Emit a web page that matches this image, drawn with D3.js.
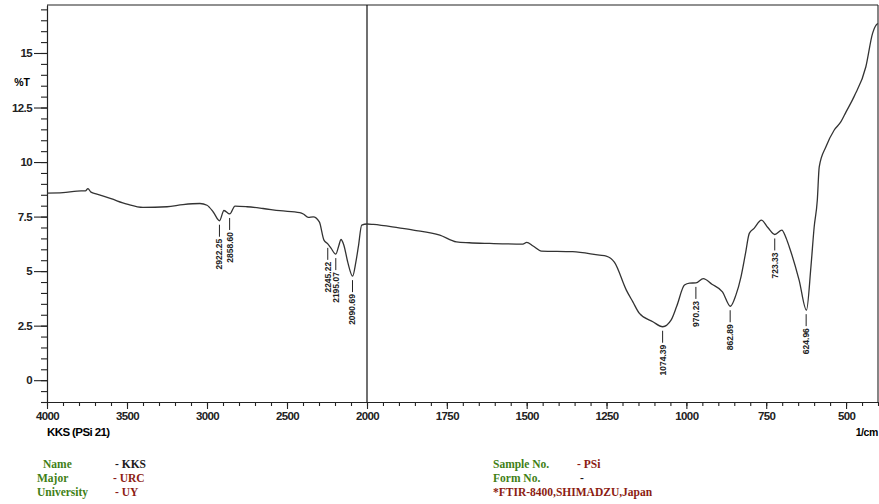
<!DOCTYPE html>
<html>
<head>
<meta charset="utf-8">
<script src="https://cdn.jsdelivr.net/npm/d3@7"></script>
<style>
  body { margin: 0; background: #fff; }
  .axis path, .axis line { stroke: #222; stroke-width: 1.1; }
  .axis text { font-family: "Liberation Sans", Arial, sans-serif; font-weight: bold; font-size: 11.5px; fill: #222; letter-spacing: -0.6px; }
  .peak text { font-family: "Liberation Sans Narrow", "Arial Narrow", "Liberation Sans", sans-serif; font-weight: bold; font-size: 8.5px; fill: #222; }
  .info { font-family: "Liberation Serif", "Times New Roman", serif; font-weight: bold; font-size: 11.5px; }
</style>
</head>
<body>
<div id="chart"></div>
<script>
// spectrum (1/cm, %T)
const wavenumber = [4000, 3900, 3812, 3760, 3744, 3725, 3688, 3600, 3500, 3400, 3250, 3150, 3044, 3000,
    2960, 2922, 2894, 2858, 2825, 2750, 2650, 2544, 2420, 2398, 2367, 2336, 2298, 2269, 2245, 2225,
    2195, 2175, 2163, 2145, 2120, 2090, 2070, 2054, 2033, 2000, 1980, 1900, 1855, 1772, 1720, 1680,
    1616, 1512, 1500, 1480, 1454, 1356, 1272, 1251, 1225, 1188, 1168, 1147, 1105, 1074, 1048, 1030,
    1006, 990, 970, 947, 920, 887, 862, 845, 829, 815, 803, 788, 765, 745, 723, 701, 690, 678,
    647, 624, 610, 600, 590, 584, 563, 537, 516, 500, 475, 438, 417, 406, 400];
const transmittance = [8.58, 8.60, 8.67, 8.68, 8.78, 8.62, 8.53, 8.32, 8.07, 7.92, 7.95, 8.05, 8.10, 8.02,
    7.70, 7.31, 7.78, 7.62, 7.98, 7.95, 7.87, 7.77, 7.68, 7.62, 7.46, 7.49, 7.26, 6.42, 6.25, 6.05,
    5.78, 6.20, 6.45, 6.20, 5.40, 4.77, 5.40, 6.12, 7.11, 7.16, 7.14, 6.98, 6.88, 6.65, 6.34, 6.30,
    6.27, 6.24, 6.32, 6.15, 5.92, 5.89, 5.73, 5.69, 5.40, 4.13, 3.60, 3.06, 2.68, 2.45, 2.75, 3.40,
    4.36, 4.45, 4.46, 4.66, 4.40, 4.05, 3.39, 3.90, 4.74, 5.80, 6.73, 6.96, 7.34, 7.00, 6.68, 6.88, 6.60, 6.12,
    4.59, 3.21, 5.20, 7.00, 8.26, 9.78, 10.70, 11.47, 11.85, 12.30, 13.00, 14.37, 15.90, 16.28, 16.35];

const peakLabels = ["2922.25", "2858.60", "2245.22", "2195.07", "2090.69",
    "1074.39", "970.23", "862.89", "723.33", "624.96"];

const xTicksLeft = [4000, 3500, 3000, 2500, 2000];
const xTicksRight = [1750, 1500, 1250, 1000, 750, 500];
const yTicks = [0, 2.5, 5, 7.5, 10, 12.5, 15];

const WIDTH = 879, HEIGHT = 504;
const margin = {top: 5, right: 1, bottom: 102, left: 47};
const width = WIDTH - margin.left - margin.right;
const height = HEIGHT - margin.top - margin.bottom;

const svg = d3.select("#chart").append("svg")
    .attr("width", WIDTH)
    .attr("height", HEIGHT);

const g = svg.append("g")
    .attr("transform", "translate(" + margin.left + "," + margin.top + ")");

// x scale changes at 2000 1/cm
const x = d3.scaleLinear()
    .domain([4000, 2000, 400])
    .range([0, 320, width]);

const y = d3.scaleLinear()
    .domain([-1.0, 17.2])
    .range([height, 0]);

// frame
g.append("line").attr("x1", 0).attr("x2", width).attr("y1", 0).attr("y2", 0)
    .attr("stroke", "#222").attr("stroke-width", 1.1);
g.append("line").attr("x1", width).attr("x2", width).attr("y1", 0).attr("y2", height)
    .attr("stroke", "#222").attr("stroke-width", 1.1);
g.append("line").attr("x1", x(2000)).attr("x2", x(2000)).attr("y1", 0).attr("y2", height)
    .attr("stroke", "#111").attr("stroke-width", 1.2);

// x axes: minor then major
const xMinor = d3.range(4000, 2000, -100).concat(d3.range(2000, 399, -50));
g.append("g").attr("class", "axis")
    .attr("transform", "translate(0," + height + ")")
    .call(d3.axisBottom(x).tickValues(xMinor).tickSize(4).tickFormat("").tickSizeOuter(0));
g.append("g").attr("class", "axis")
    .attr("transform", "translate(0," + height + ")")
    .call(d3.axisBottom(x).tickValues(xTicksLeft.concat(xTicksRight)).tickSize(7).tickPadding(3)
        .tickSizeOuter(0).tickFormat(d3.format("d")));

// y axes
const yMinor = d3.range(-1, 17.01, 0.5);
g.append("g").attr("class", "axis")
    .call(d3.axisLeft(y).tickValues(yMinor).tickSize(6).tickFormat("").tickSizeOuter(0));
g.append("g").attr("class", "axis")
    .call(d3.axisLeft(y).tickValues(yTicks).tickSize(13).tickPadding(2).tickSizeOuter(0)
        .tickFormat(d => d));

// spectrum
const data = wavenumber.map((w, i) => ({w: w, t: transmittance[i]}));

const line = d3.line()
    .x(d => x(d.w))
    .y(d => y(d.t))
    .curve(d3.curveMonotoneX);

g.append("path")
    .datum(data)
    .attr("fill", "none")
    .attr("stroke", "#333")
    .attr("stroke-width", 1.3)
    .attr("d", line);

// peak markers
const tAt = w => {
    const i = d3.minIndex(wavenumber, v => Math.abs(v - w));
    return transmittance[i];
};

const peaks = g.selectAll(".peak")
    .data(peakLabels)
    .enter()
    .append("g")
    .attr("class", "peak")
    .attr("transform", d => "translate(" + x(+d) + "," + (y(tAt(+d)) + 4) + ")");

peaks.append("line")
    .attr("y1", 0).attr("y2", 12)
    .attr("stroke", "#222").attr("stroke-width", 1);

peaks.append("text")
    .attr("transform", "translate(3,14) rotate(-90)")
    .attr("text-anchor", "end")
    .text(d => d);

// axis titles
svg.append("text").attr("x", 22).attr("y", 86)
    .attr("text-anchor", "middle")
    .style("font-family", "Liberation Sans, Arial, sans-serif")
    .style("font-weight", "bold").style("font-size", "10.5px")
    .text("%T");

svg.append("text").attr("x", 47).attr("y", 436)
    .style("font-family", "Liberation Sans, Arial, sans-serif")
    .style("font-weight", "bold").style("font-size", "11.5px").style("letter-spacing", "-0.6px")
    .text("KKS (PSi 21)");

svg.append("text").attr("x", 878).attr("y", 436)
    .attr("text-anchor", "end")
    .style("font-family", "Liberation Sans, Arial, sans-serif")
    .style("font-weight", "bold").style("font-size", "10.5px").style("letter-spacing", "-0.4px")
    .text("1/cm");

// info block
const green = "#3f7f16", red = "#8c1c12";
const info = [
    {x: 43, y: 468, text: "Name", c: green}, {x: 115, y: 468, text: "- KKS", c: "#1a1a1a"},
    {x: 37, y: 482, text: "Major", c: green}, {x: 113, y: 482, text: "- URC", c: red},
    {x: 37, y: 496, text: "University", c: green}, {x: 115, y: 496, text: "- UY", c: red},
    {x: 493, y: 468, text: "Sample No.", c: green}, {x: 577, y: 468, text: "- PSi", c: red},
    {x: 493, y: 482, text: "Form No.", c: green}, {x: 580, y: 482, text: "-", c: "#1a1a1a"},
    {x: 493, y: 496, text: "*FTIR-8400,SHIMADZU,Japan", c: red}
];

svg.selectAll(".info")
    .data(info)
    .enter()
    .append("text")
    .attr("class", "info")
    .attr("x", d => d.x)
    .attr("y", d => d.y)
    .attr("fill", d => d.c)
    .text(d => d.text);
</script>
</body>
</html>
